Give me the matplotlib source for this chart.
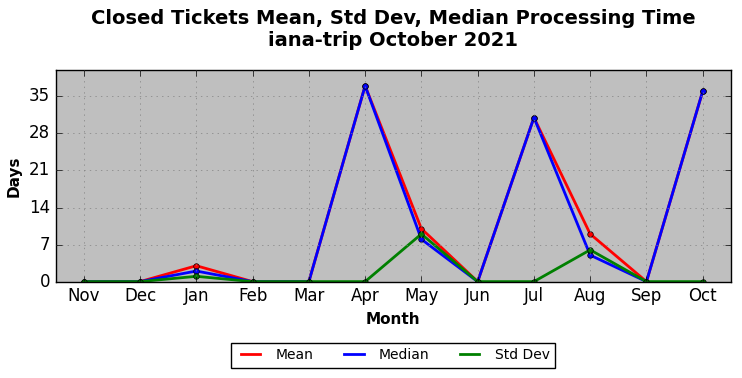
import matplotlib.pyplot as plt
from matplotlib.lines import Line2D

plt.style.use('classic')
plt.rcParams['font.family'] = ['DejaVu Sans']

# data
months = ['Nov', 'Dec', 'Jan', 'Feb', 'Mar', 'Apr', 'May', 'Jun', 'Jul', 'Aug', 'Sep', 'Oct']
mean = [0, 0, 3, 0, 0, 37, 10, 0, 31, 9, 0, 36]
median = [0, 0, 2, 0, 0, 37, 8, 0, 31, 5, 0, 36]
std_dev = [0, 0, 1, 0, 0, 0, 9, 0, 0, 6, 0, 0]

fig, ax = plt.subplots(figsize=(7.42, 3.78), dpi=100)
fig.patch.set_facecolor('white')
ax.set_facecolor('#bfbfbf')

x = range(len(months))
ax.plot(x, mean, color='red', lw=2, marker='o', ms=4, mec='black', mew=0.5)
ax.plot(x, median, color='blue', lw=2, marker='o', ms=4, mec='black', mew=0.5)
ax.plot(x, std_dev, color='green', lw=2, marker='o', ms=4, mec='black', mew=0.5)

ax.set_xlim(-0.5, 11.5)
ax.set_ylim(0, 40)
ax.set_xticks(list(x))
ax.set_xticklabels(months)
ax.set_yticks([0, 7, 14, 21, 28, 35])
ax.tick_params(labelsize=12)
ax.grid(True, color='gray', linestyle=':')

ax.set_xlabel('Month', fontsize=11, fontweight='bold')
ax.set_ylabel('Days', fontsize=11, fontweight='bold')
ax.set_title('Closed Tickets Mean, Std Dev, Median Processing Time\niana-trip October 2021',
             fontsize=14, fontweight='bold', y=1.078)

handles = [Line2D([], [], color='red', lw=2),
           Line2D([], [], color='blue', lw=2),
           Line2D([], [], color='green', lw=2)]
ax.legend(handles, ['Mean', 'Median', 'Std Dev'], loc='upper center',
          bbox_to_anchor=(0.5, -0.255), ncol=3, fontsize=10, frameon=True,
          fancybox=False, handlelength=2, columnspacing=1.9)

plt.subplots_adjust(left=0.075, right=0.985, top=0.815, bottom=0.255)
plt.savefig('out.png', dpi=100)
